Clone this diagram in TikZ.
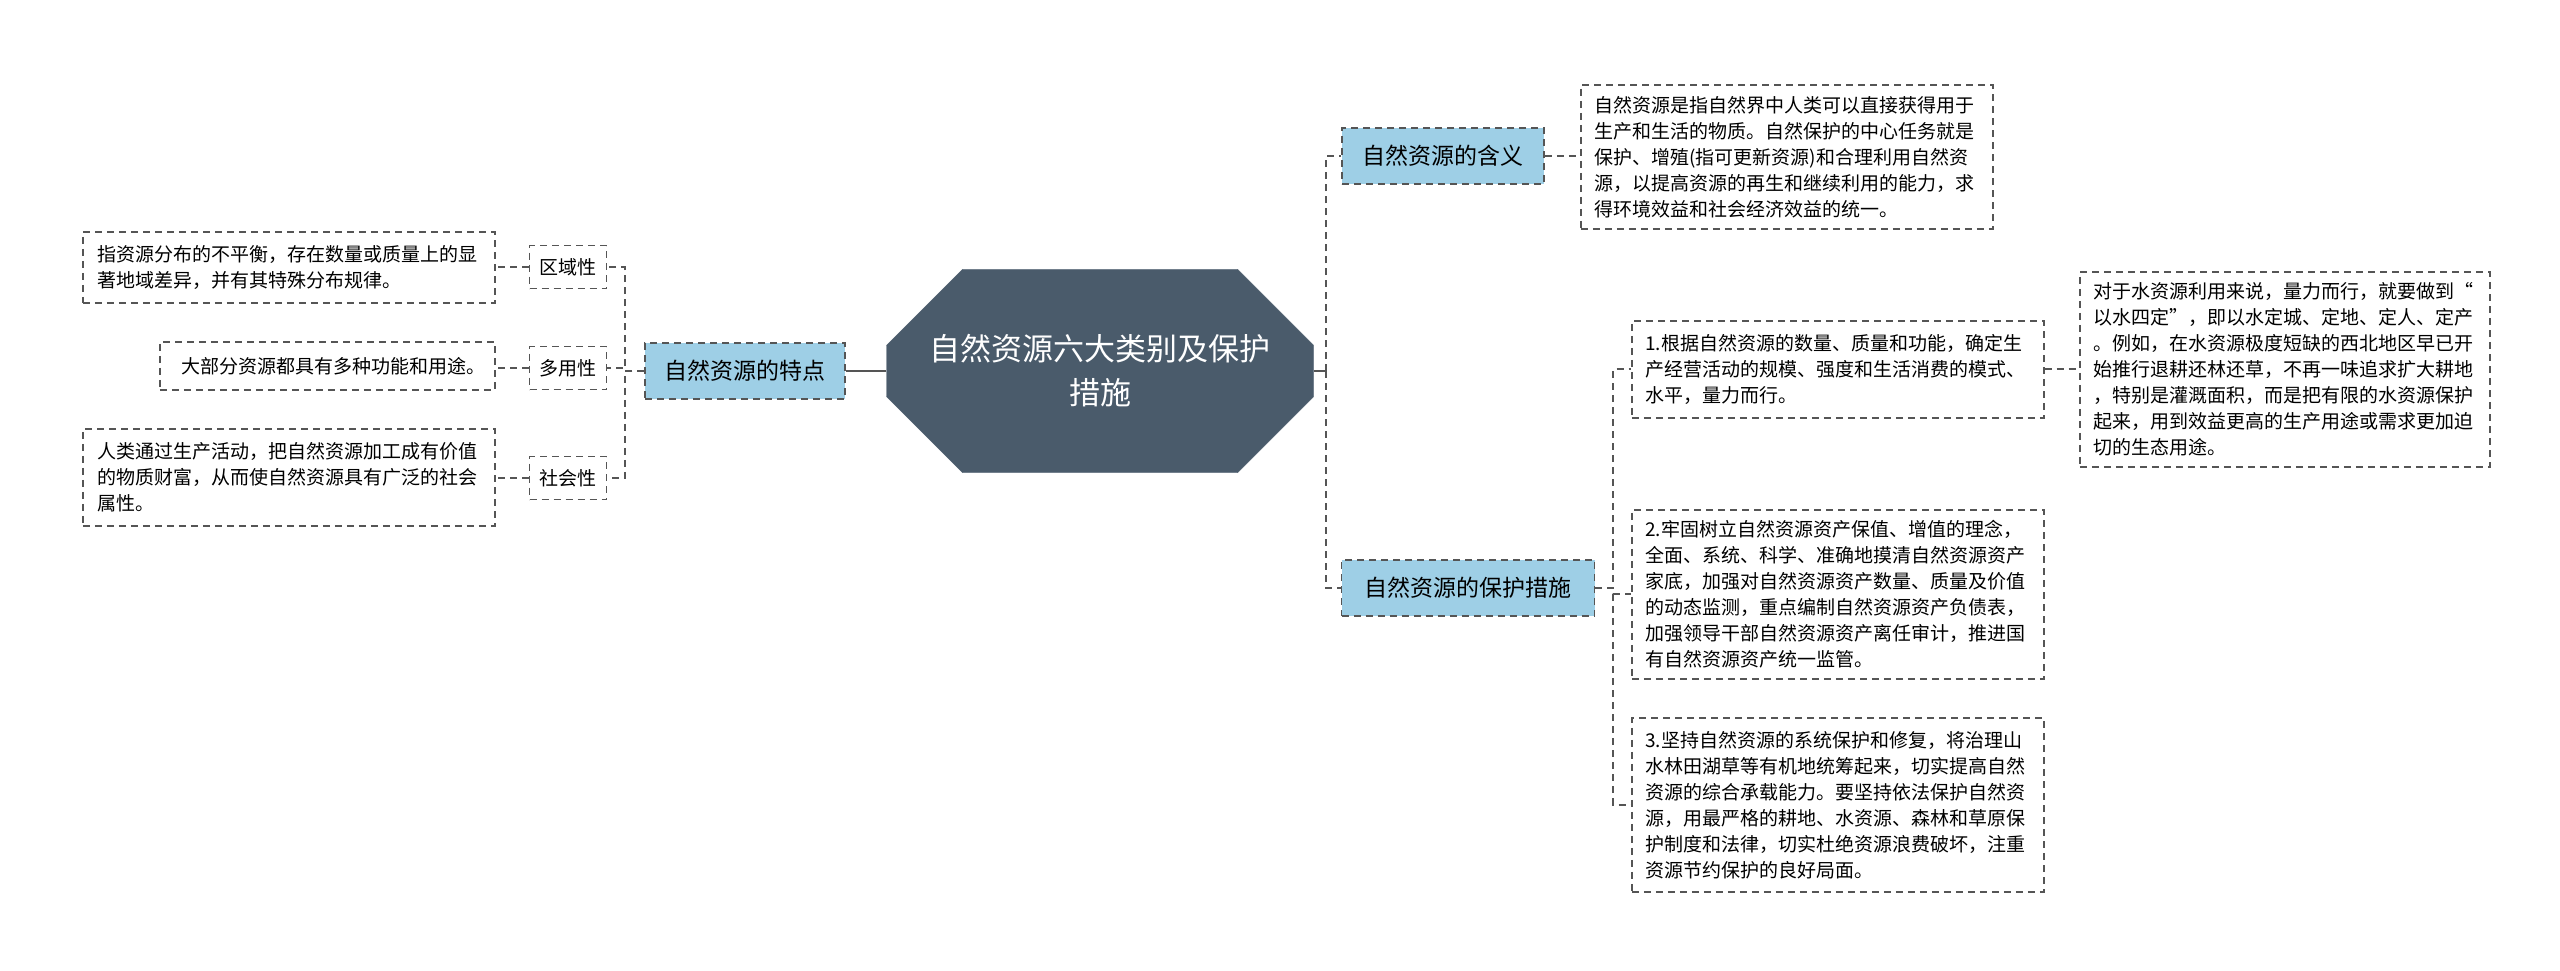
\documentclass[tikz,border=0pt]{standalone}
\usepackage{fontspec}
\setmainfont{Noto Sans CJK SC}
\usetikzlibrary{shapes.misc}
\definecolor{rootfill}{HTML}{4A5B6B}
\definecolor{branchfill}{HTML}{9ECFE6}
\definecolor{linegray}{HTML}{555555}
\tikzset{
  leaf/.style={draw=linegray, dashed, line width=1.6pt, dash pattern=on 7pt off 5pt, align=left, inner sep=0pt, anchor=north west, font=\fontsize{19}{26}\selectfont},
  tag/.style={draw=linegray, dashed, line width=1.6pt, dash pattern=on 7pt off 5pt, minimum width=77pt, minimum height=43pt, font=\fontsize{19}{24}\selectfont},
  branch/.style={draw=linegray, fill=branchfill, dashed, line width=1.6pt, dash pattern=on 7pt off 5pt, minimum height=56pt, font=\fontsize{23}{28}\selectfont},
  link/.style={draw=linegray, line width=2pt, dash pattern=on 7pt off 5pt}
}
\begin{document}
\begin{tikzpicture}[x=1pt,y=1pt]
  \useasboundingbox (0,0) rectangle (2560,-970);
  \node[chamfered rectangle, chamfered rectangle xsep=14pt, chamfered rectangle ysep=62pt,
        fill=rootfill, draw=rootfill, minimum width=427pt, minimum height=125pt, align=center,
        text=white, font=\fontsize{31}{44}\selectfont] (root) at (1100,-371) {自然资源六大类别及保护\\措施};

  % left branch
  \node[branch, minimum width=200pt] (trait) at (745,-371) {自然资源的特点};
  \node[tag] (area) at (568,-267) {区域性};
  \node[tag] (multi) at (568,-368) {多用性};
  \node[tag] (social) at (568,-478) {社会性};
  \node[leaf, minimum width=412pt, minimum height=71pt] (areat) at (82,-231) {\hspace{10pt}\parbox{392pt}{指资源分布的不平衡，存在数量或质量上的显\\著地域差异，并有其特殊分布规律。}};
  \node[leaf, minimum width=335pt, minimum height=48pt] (multit) at (159,-341) {\hspace{12pt}大部分资源都具有多种功能和用途。};
  \node[leaf, minimum width=412pt, minimum height=97pt] (socialt) at (82,-428) {\hspace{10pt}\parbox{392pt}{人类通过生产活动，把自然资源加工成有价值\\的物质财富，从而使自然资源具有广泛的社会\\属性。}};

  % right branch
  \node[branch, minimum width=202pt] (mean) at (1443,-156) {自然资源的含义};
  \node[branch, minimum width=253pt] (protect) at (1468,-588) {自然资源的保护措施};
  \node[leaf, minimum width=412pt, minimum height=144pt] (meant) at (1580,-84) {\hspace{10pt}\parbox{395pt}{自然资源是指自然界中人类可以直接获得用于\\生产和生活的物质。自然保护的中心任务就是\\保护、增殖(指可更新资源)和合理利用自然资\\源，以提高资源的再生和继续利用的能力，求\\得环境效益和社会经济效益的统一。}};
  \node[leaf, minimum width=412pt, minimum height=97pt] (m1) at (1631,-320) {\hspace{10pt}\parbox{395pt}{1.根据自然资源的数量、质量和功能，确定生\\产经营活动的规模、强度和生活消费的模式、\\水平，量力而行。}};
  \node[leaf, minimum width=412pt, minimum height=169pt] (m2) at (1631,-509) {\hspace{10pt}\parbox{395pt}{2.牢固树立自然资源资产保值、增值的理念，\\全面、系统、科学、准确地摸清自然资源资产\\家底，加强对自然资源资产数量、质量及价值\\的动态监测，重点编制自然资源资产负债表，\\加强领导干部自然资源资产离任审计，推进国\\有自然资源资产统一监管。}};
  \node[leaf, minimum width=412pt, minimum height=174pt] (m3) at (1631,-717) {\hspace{10pt}\parbox{395pt}{3.坚持自然资源的系统保护和修复，将治理山\\水林田湖草等有机地统筹起来，切实提高自然\\资源的综合承载能力。要坚持依法保护自然资\\源，用最严格的耕地、水资源、森林和草原保\\护制度和法律，切实杜绝资源浪费破坏，注重\\资源节约保护的良好局面。}};
  \node[leaf, minimum width=410pt, minimum height=195pt] (m1t) at (2079,-271) {\hspace{10pt}\parbox{392pt}{对于水资源利用来说，量力而行，就要做到“\\以水四定”，即以水定城、定地、定人、定产\\。例如，在水资源极度短缺的西北地区早已开\\始推行退耕还林还草，不再一味追求扩大耕地\\，特别是灌溉面积，而是把有限的水资源保护\\起来，用到效益更高的生产用途或需求更加迫\\切的生态用途。}};

  \coordinate (lspine) at (625,-371);
  \coordinate (rspine) at (1326,-371);
  \coordinate (pspine) at (1613,-588);

  \draw[link, solid] (root.west) -- (trait.east);
  \foreach \n in {area, multi, social}
    \draw[link] (trait.west) -- (lspine) |- (\n.east);
  \draw[link] (area.west) -- (area.west -| areat.east);
  \draw[link] (multi.west) -- (multi.west -| multit.east);
  \draw[link] (social.west) -- (social.west -| socialt.east);

  \draw[link, solid] (root.east) -- (rspine);
  \foreach \n in {mean, protect}
    \draw[link] (rspine) |- (\n.west);
  \draw[link] (mean.east) -- (meant.west |- mean.east);
  \foreach \n in {m1, m2, m3}
    \draw[link] (protect.east) -- (pspine) |- (\n.west);
  \draw[link] (m1.east) -- (m1t.west |- m1.east);
\end{tikzpicture}
\end{document}
